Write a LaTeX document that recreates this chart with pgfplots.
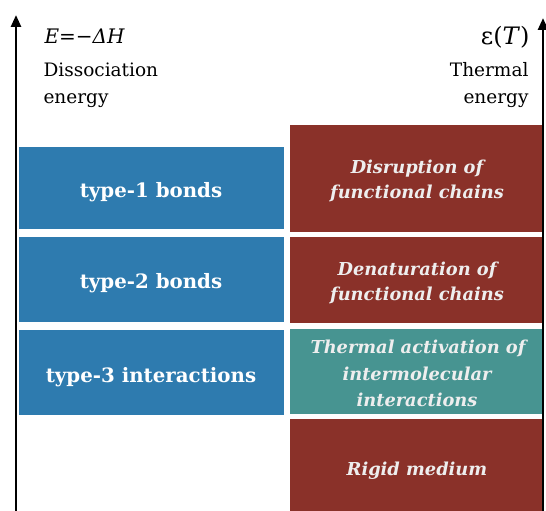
\documentclass[border=0pt]{standalone}
\usepackage{pgfplots}
\pgfplotsset{compat=1.18}
\usetikzlibrary{arrows.meta}
\usepackage{fontspec}
\setmainfont{DejaVu Serif}

\definecolor{boxblue}{HTML}{2E7BAF}
\definecolor{boxred}{HTML}{8A3129}
\definecolor{boxteal}{HTML}{479491}
\definecolor{lighttext}{HTML}{EEEEEE}

\begin{document}
\begin{tikzpicture}
\begin{axis}[
    width=546pt, height=511pt,
    scale only axis,
    xmin=0, xmax=546,
    ymin=0, ymax=511,
    y dir=reverse,
    hide axis,
    clip=false,
    ]
    % left column: bond types
    \addplot[fill=boxblue, draw=none] coordinates {(19,147)(284,147)(284,229)(19,229)} -- cycle;
    \addplot[fill=boxblue, draw=none] coordinates {(19,237)(284,237)(284,322)(19,322)} -- cycle;
    \addplot[fill=boxblue, draw=none] coordinates {(19,330)(284,330)(284,415)(19,415)} -- cycle;
    % right column: thermal regimes
    \addplot[fill=boxred, draw=none] coordinates {(290,125)(544,125)(544,232)(290,232)} -- cycle;
    \addplot[fill=boxred, draw=none] coordinates {(290,237)(544,237)(544,323)(290,323)} -- cycle;
    \addplot[fill=boxteal, draw=none] coordinates {(290,329)(544,329)(544,414)(290,414)} -- cycle;
    \addplot[fill=boxred, draw=none] coordinates {(290,419)(544,419)(544,511)(290,511)} -- cycle;
    % energy axes
    \addplot[line width=2.6pt, -{Triangle[length=12pt,width=10pt]}] coordinates {(16,511)(16,15)};
    \addplot[line width=2.6pt, -{Triangle[length=12pt,width=10pt]}] coordinates {(543,511)(543,18)};

    \node[anchor=base west, font=\fontsize{20}{24}\selectfont\itshape] at (axis cs:41,44) {E=−ΔH};
    \node[anchor=base west, font=\fontsize{18.5}{22}\selectfont] at (axis cs:40,77) {Dissociation};
    \node[anchor=base west, font=\fontsize{18.5}{22}\selectfont] at (axis cs:40,103) {energy};
    \node[anchor=base east, font=\fontsize{24}{28}\selectfont] at (axis cs:533,45) {ε(\textit{T})};
    \node[anchor=base east, font=\fontsize{18.5}{22}\selectfont] at (axis cs:532,77) {Thermal};
    \node[anchor=base east, font=\fontsize{18.5}{22}\selectfont] at (axis cs:532,103) {energy};

    \begin{scope}[every node/.style={anchor=base, text=white, font=\fontsize{19.8}{24}\selectfont\bfseries}]
    \node at (axis cs:151,197) {type-1 bonds};
    \node at (axis cs:151,288) {type-2 bonds};
    \node at (axis cs:151,382) {type-3 interactions};
    \end{scope}
    \begin{scope}[every node/.style={anchor=base, text=lighttext, font=\fontsize{17.8}{21}\selectfont\bfseries\itshape}]
    \node at (axis cs:417,173) {Disruption of};
    \node at (axis cs:417,198) {functional chains};
    \node at (axis cs:417,275) {Denaturation of};
    \node at (axis cs:417,300) {functional chains};
    \node at (axis cs:418,353) {Thermal activation of};
    \node at (axis cs:417,380) {intermolecular};
    \node at (axis cs:417,406) {interactions};
    \node at (axis cs:417,475) {Rigid medium};
    \end{scope}
\end{axis}
\pgfresetboundingbox
\path (0,0) rectangle (546pt,511pt);
\end{tikzpicture}
\end{document}
